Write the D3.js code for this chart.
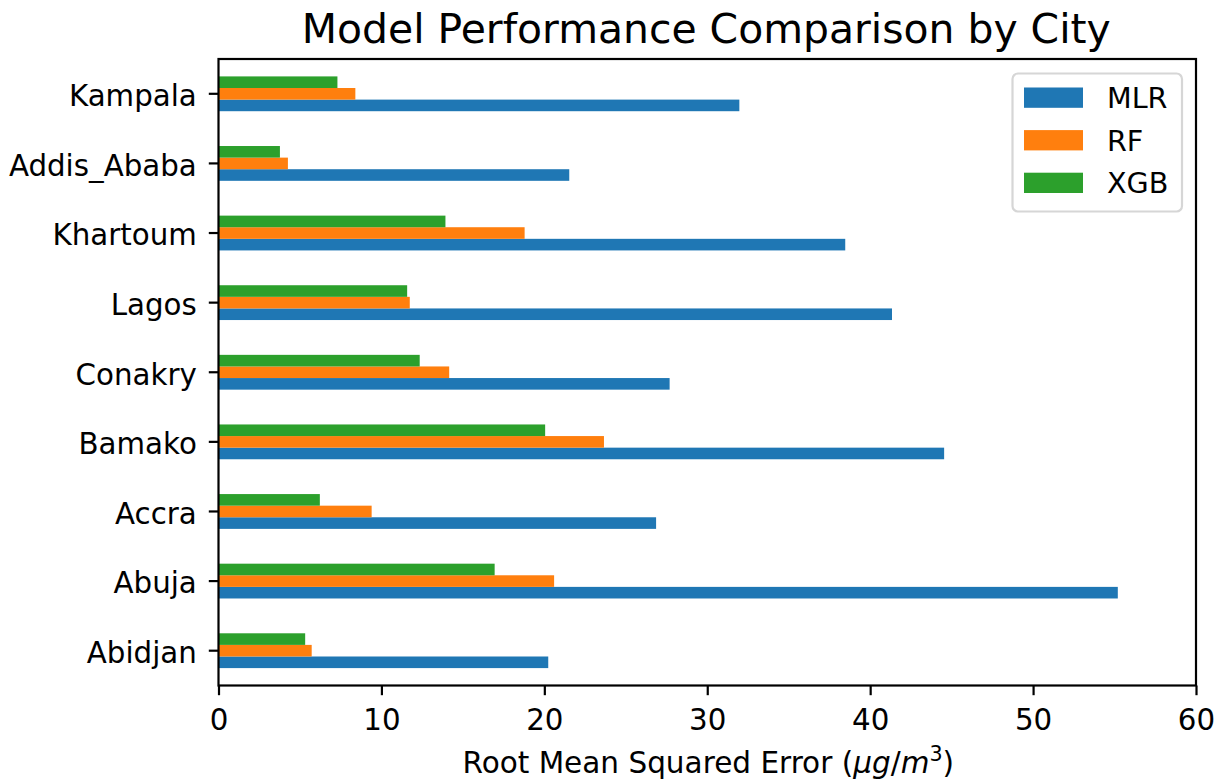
<!DOCTYPE html>
<html>
<head>
<meta charset="utf-8">
<script src="https://cdn.jsdelivr.net/npm/d3@7"></script>
<style>
  html, body { margin: 0; padding: 0; background: #fff; }
  svg { display: block; font-family: "DejaVu Sans", sans-serif; }
</style>
</head>
<body>
<svg id="chart" width="1225" height="782"></svg>
<script>
// Cities, listed from top to bottom as they appear on the y axis
const cities = ["Kampala", "Addis_Ababa", "Khartoum", "Lagos", "Conakry", "Bamako", "Accra", "Abuja", "Abidjan"];

// RMSE per model, same order as cities
const mlrValues = [31.97, 21.53, 38.47, 41.34, 27.69, 44.54, 26.86, 55.2, 20.24];
const rfValues  = [8.40, 4.26, 18.79, 11.74, 14.16, 23.66, 9.40, 20.6, 5.72];
const xgbValues = [7.30, 3.77, 13.93, 11.58, 12.35, 20.05, 6.22, 16.95, 5.32];

const models = ["MLR", "RF", "XGB"];
const modelColors = ["#1f77b4", "#ff7f0e", "#2ca02c"];
const xTicks = [0, 10, 20, 30, 40, 50, 60];

const seriesData = { MLR: mlrValues, RF: rfValues, XGB: xgbValues };

const svg = d3.select("#chart");
const plot = { left: 218.5, right: 1196, top: 59, bottom: 685.5 };
const tickLen = 9.7;
const fontSize = 29.3;

const x = d3.scaleLinear().domain([0, 60]).range([plot.left, plot.right]);

// Each city gets a band half a step wide, centred on its tick
const y = d3.scaleBand()
  .domain(cities)
  .range([plot.top, plot.bottom])
  .paddingInner(0.5)
  .paddingOuter(0.25);

// Within a band: XGB on top, RF in the middle, MLR at the bottom
const ySub = d3.scaleBand()
  .domain(["XGB", "RF", "MLR"])
  .range([0, y.bandwidth()])
  .padding(0);

const color = d3.scaleOrdinal().domain(models).range(modelColors);

// Bars
const groups = svg.append("g").selectAll("g")
  .data(cities)
  .join("g")
  .attr("transform", d => `translate(0,${y(d)})`);

groups.selectAll("rect")
  .data((city, i) => models.map(m => ({ model: m, value: seriesData[m][i] })))
  .join("rect")
  .attr("x", x(0))
  .attr("y", d => ySub(d.model))
  .attr("width", d => x(d.value) - x(0))
  .attr("height", ySub.bandwidth())
  .attr("fill", d => color(d.model));

// X axis
const xAxis = d3.axisBottom(x)
  .tickValues(xTicks)
  .tickFormat(d3.format("d"))
  .tickSize(tickLen)
  .tickPadding(13.5);

const gx = svg.append("g")
  .attr("transform", `translate(0,${plot.bottom})`)
  .call(xAxis);
gx.select(".domain").remove();
gx.selectAll(".tick line").attr("stroke", "#000").attr("stroke-width", 2.2);
gx.selectAll(".tick text")
  .attr("font-family", "DejaVu Sans")
  .attr("font-size", fontSize)
  .attr("fill", "#000");

// Y axis
const yAxis = d3.axisLeft(y)
  .tickSize(tickLen)
  .tickPadding(12);

const gy = svg.append("g")
  .attr("transform", `translate(${plot.left},0)`)
  .call(yAxis);
gy.select(".domain").remove();
gy.selectAll(".tick line").attr("stroke", "#000").attr("stroke-width", 2.2);
gy.selectAll(".tick text")
  .attr("font-family", "DejaVu Sans")
  .attr("font-size", fontSize)
  .attr("dy", "0.42em")
  .attr("fill", "#000");

// Frame around the plotting area
svg.append("rect")
  .attr("x", plot.left)
  .attr("y", plot.top)
  .attr("width", plot.right - plot.left)
  .attr("height", plot.bottom - plot.top)
  .attr("fill", "none")
  .attr("stroke", "#000")
  .attr("stroke-width", 2.2);

// Title
svg.append("text")
  .attr("x", (plot.left + plot.right) / 2 - 1)
  .attr("y", 43)
  .attr("text-anchor", "middle")
  .attr("font-size", 40.9)
  .attr("fill", "#000")
  .text("Model Performance Comparison by City");

// X axis label with unit
const xl = svg.append("text")
  .attr("x", (plot.left + plot.right) / 2 + 1)
  .attr("y", 773)
  .attr("text-anchor", "middle")
  .attr("font-size", 29.5)
  .attr("fill", "#000");
xl.append("tspan").text("Root Mean Squared Error (");
xl.append("tspan").attr("font-style", "italic").text("\u03bcg");
xl.append("tspan").text("/");
xl.append("tspan").attr("font-style", "italic").text("m");
xl.append("tspan").attr("font-size", 29.5 * 0.7).attr("dy", -12).text("3");
xl.append("tspan").attr("dy", 12).text(")");

// Legend
const legendFont = 28.6;
const legend = svg.append("g").attr("transform", "translate(1012.5,73.5)");
legend.append("rect")
  .attr("width", 169.5)
  .attr("height", 138)
  .attr("rx", 5.5)
  .attr("fill", "#fff")
  .attr("fill-opacity", 0.8)
  .attr("stroke", "#d6d6d6")
  .attr("stroke-width", 2.2);

const items = legend.selectAll("g.item")
  .data(models)
  .join("g")
  .attr("class", "item")
  .attr("transform", (d, i) => `translate(0,${14 + i * 42.6})`);

items.append("rect")
  .attr("x", 11.5)
  .attr("width", 59)
  .attr("height", 20.3)
  .attr("fill", d => color(d));

items.append("text")
  .attr("x", 94.5)
  .attr("y", 20.6)
  .attr("font-size", legendFont)
  .attr("fill", "#000")
  .text(d => d);
</script>
</body>
</html>
